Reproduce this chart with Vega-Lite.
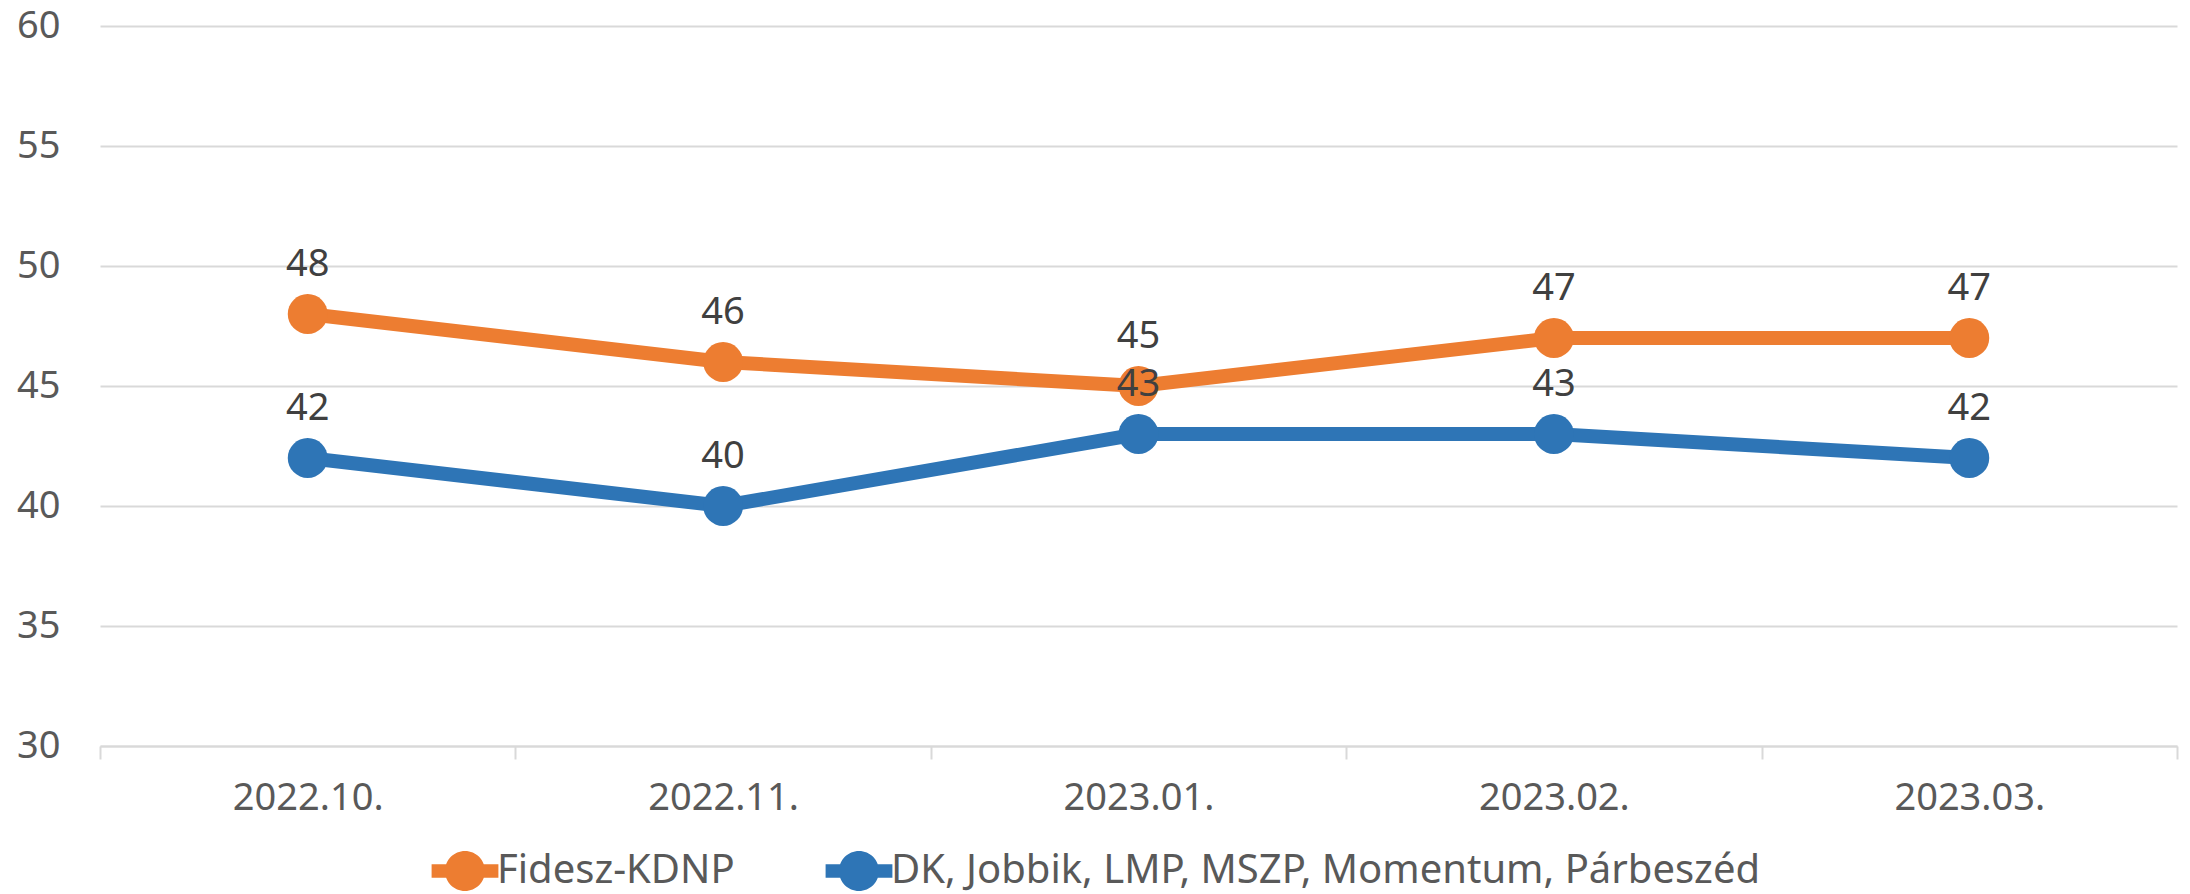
{
  "$schema": "https://vega.github.io/schema/vega-lite/v6.json",
  "width": 2077,
  "height": 720,
  "autosize": {"type": "none"},
  "padding": {"left": 100, "top": 26, "right": 13, "bottom": 148},
  "background": "white",
  "config": {"view": {"stroke": null}, "font": "Noto Sans"},
  "data": {
    "values": [
      {"month": "2022.10.", "party": "Fidesz-KDNP", "value": 48},
      {"month": "2022.11.", "party": "Fidesz-KDNP", "value": 46},
      {"month": "2023.01.", "party": "Fidesz-KDNP", "value": 45},
      {"month": "2023.02.", "party": "Fidesz-KDNP", "value": 47},
      {"month": "2023.03.", "party": "Fidesz-KDNP", "value": 47},
      {"month": "2022.10.", "party": "DK, Jobbik, LMP, MSZP, Momentum, Párbeszéd", "value": 42},
      {"month": "2022.11.", "party": "DK, Jobbik, LMP, MSZP, Momentum, Párbeszéd", "value": 40},
      {"month": "2023.01.", "party": "DK, Jobbik, LMP, MSZP, Momentum, Párbeszéd", "value": 43},
      {"month": "2023.02.", "party": "DK, Jobbik, LMP, MSZP, Momentum, Párbeszéd", "value": 43},
      {"month": "2023.03.", "party": "DK, Jobbik, LMP, MSZP, Momentum, Párbeszéd", "value": 42}
    ]
  },
  "encoding": {
    "x": {
      "field": "month",
      "type": "ordinal",
      "sort": null,
      "bandPosition": 0.5,
      "scale": {"type": "band", "paddingInner": 0, "paddingOuter": 0},
      "axis": {
        "title": null,
        "labelAngle": 0,
        "labelFontSize": 38,
        "labelColor": "#595959",
        "labelBaseline": "middle",
        "labelPadding": 39,
        "domainColor": "#d9d9d9",
        "domainWidth": 2,
        "ticks": true,
        "tickBand": "extent",
        "tickSize": 13,
        "tickColor": "#d9d9d9",
        "tickWidth": 2,
        "grid": false
      }
    },
    "y": {
      "field": "value",
      "type": "quantitative",
      "scale": {"domain": [30, 60], "nice": false, "zero": false},
      "axis": {
        "title": null,
        "values": [30, 35, 40, 45, 50, 55, 60],
        "labelFontSize": 38,
        "labelColor": "#595959",
        "labelPadding": 40,
        "domain": false,
        "ticks": false,
        "grid": true,
        "gridColor": "#d9d9d9",
        "gridWidth": 2
      }
    },
    "color": {
      "field": "party",
      "type": "nominal",
      "sort": ["Fidesz-KDNP", "DK, Jobbik, LMP, MSZP, Momentum, Párbeszéd"],
      "scale": {"domain": ["Fidesz-KDNP", "DK, Jobbik, LMP, MSZP, Momentum, Párbeszéd"], "range": ["#ED7D31", "#2E75B6"]},
      "legend": {
        "title": null,
        "orient": "none",
        "direction": "horizontal",
        "legendX": 345,
        "legendY": 825,
        "labelFontSize": 40,
        "labelColor": "#595959",
        "labelLimit": 0,
        "labelOffset": 12,
        "columnPadding": 90,
        "symbolType": "M-1,0A1,1,0,1,1,1,0A1,1,0,1,1,-1,0Z M-1.67,-0.34L1.67,-0.34L1.67,0.34L-1.67,0.34Z",
        "symbolSize": 1600,
        "symbolStrokeWidth": 0,
        "symbolOpacity": 1
      }
    }
  },
  "layer": [
    {"mark": {"type": "line", "strokeWidth": 14}},
    {"mark": {"type": "circle", "size": 1590, "opacity": 1}},
    {
      "mark": {"type": "text", "dy": -49, "fontSize": 38, "baseline": "middle"},
      "encoding": {
        "text": {"field": "value", "type": "quantitative"},
        "color": {"value": "#404040"}
      }
    }
  ]
}
